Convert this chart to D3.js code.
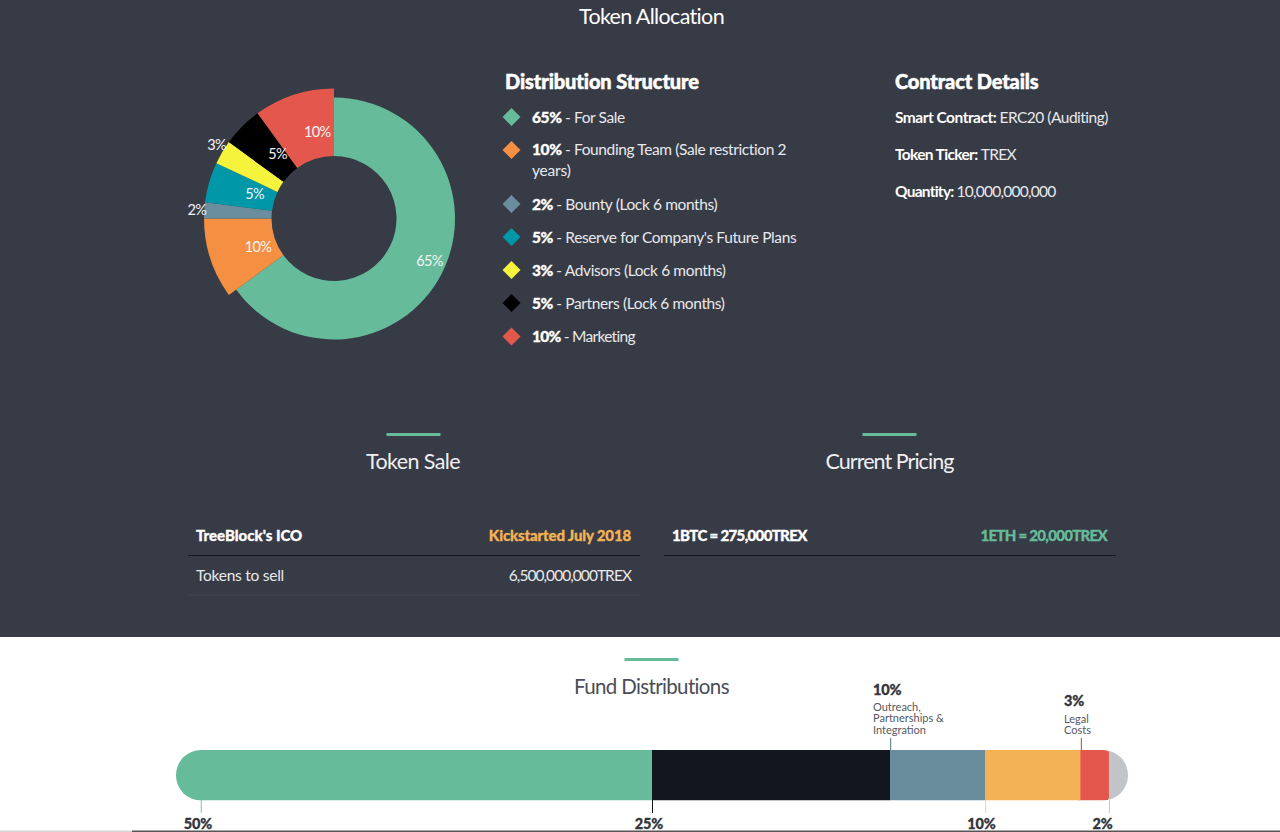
<!DOCTYPE html>
<html><head><meta charset="utf-8">
<script src="https://cdn.jsdelivr.net/npm/d3@7/dist/d3.min.js"></script>
<style>html,body{margin:0;padding:0;background:#fff;overflow:hidden}svg{display:block}text{font-family:Lato,"Noto Sans",sans-serif}</style>
</head><body><div id="chart"></div>
<script>
const sliceNames=["For Sale","Founding Team","Bounty","Reserve","Advisors","Partners","Marketing"];
const sliceValues=[65,10,2,5,3,5,10];
const sliceColors=["#66bb9a","#f58f41","#6b8e9e","#0097a9","#f5f33c","#000000","#e4574c"];
const sliceLabels=["65%","10%","2%","5%","3%","5%","10%"];
const labelNudge=[[13.8,0.8],[15.5,-0.8],[-41,-2.5],[13,2.2],[-34.5,-24.5],[11.7,3.5],[13,5]];
const legendBold=["65%","10%","2%","5%","3%","5%","10%"];
const legendText=[["- For Sale"],["- Founding Team (Sale restriction 2","years)"],["- Bounty (Lock 6 months)"],["- Reserve for Company's Future Plans"],["- Advisors (Lock 6 months)"],["- Partners (Lock 6 months)"],["- Marketing"]];
const legendRows=[117,150,204,237,270,303,336.5];
const legendTrack=[-0.38,-0.38,-0.38,-0.38,-0.38,-0.38,-0.7];
const contractKeys=["Smart Contract:","Token Ticker:","Quantity:"];
const contractVals=["ERC20 (Auditing)","TREX","10,000,000,000"];
const contractTrack=[-0.5,-0.66,-0.75];
const fundValues=[50,25,10,10,3,2];
const fundColors=["#66bb9a","#14161f","#6a8d9e","#f3b355","#e4574c","#c1c5ca"];
const fundBottom=[["50%",2.6],["25%",50],["10%",85],["2%",98]];

const W=1280,H=832,bg="#373b46";
const svg=d3.select("#chart").append("svg").attr("width",W).attr("height",H);
svg.append("rect").attr("width",W).attr("height",637).attr("fill",bg);
function txt(x,y,s,size,fill,weight,anchor,track,heavy){
 const t=svg.append("text").attr("x",x).attr("y",y).attr("font-size",size).attr("fill",fill).attr("font-weight",weight||400).attr("text-anchor",anchor||"start").attr("letter-spacing",track||0).text(s);
 if(heavy)t.attr("stroke",fill).attr("stroke-width",heavy);
 return t;
}
txt(651.5,24,"Token Allocation",21.5,"#fff",400,"middle",-0.65);

// donut
const cx=334,cy=218.5;
const pie=d3.pie().sort(null).value(d=>d)(sliceValues);
const g=svg.append("g").attr("transform",`translate(${cx},${cy})`);
const arcFor=i=>d3.arc().innerRadius(62.5).outerRadius(i===0?121:130);
g.selectAll("path").data(pie).join("path").attr("d",(d,i)=>arcFor(i)(d)).attr("fill",(d,i)=>sliceColors[i]);
g.selectAll("text").data(pie).join("text")
 .attr("transform",(d,i)=>{const c=arcFor(i).centroid(d);return `translate(${c[0]+labelNudge[i][0]},${c[1]+labelNudge[i][1]+5})`;})
 .attr("text-anchor","middle").attr("font-size",14.5).attr("letter-spacing",-0.6).attr("fill","#f4f4f6").text((d,i)=>sliceLabels[i]);

// legend
txt(505,89,"Distribution Structure",20,"#fff",900,"start",-0.1,0.5);
const sym=d3.symbol().type(d3.symbolSquare).size(162);
const textOffset=[5.5,4.5,5.5,5.5,5.5,5.5,5];
legendRows.forEach((y,i)=>{
 svg.append("path").attr("d",sym()).attr("fill",sliceColors[i]).attr("transform",`translate(511.5,${y}) rotate(45)`);
 const t=txt(532,y+textOffset[i],"",15.5,"#e8e9ec",400,"start",legendTrack[i]);
 t.append("tspan").attr("font-weight",900).attr("fill","#fff").attr("stroke","#fff").attr("stroke-width",0.3).text(legendBold[i]+" ");
 t.append("tspan").text(legendText[i][0]);
 if(legendText[i][1])txt(532,y+26,legendText[i][1],15.5,"#e8e9ec",400,"start",-0.2);
});
txt(895,89,"Contract Details",20,"#fff",900,"start",-0.13,0.5);
[117,154,191].forEach((y,i)=>{
 const t=txt(895,y+5.5,"",15.5,"#e8e9ec",400,"start",contractTrack[i]);
 t.append("tspan").attr("font-weight",700).attr("fill","#fff").text(contractKeys[i]+" ");
 t.append("tspan").text(contractVals[i]);
});

// section heads
function accent(x,y){svg.append("rect").attr("x",x).attr("y",y).attr("width",54).attr("height",3).attr("fill","#66bb9a");}
accent(386.5,433);accent(862.5,433);accent(624.5,658);
txt(413,469,"Token Sale",21.5,"#f0f0f2",400,"middle",-0.6);
txt(889.5,469,"Current Pricing",21.5,"#f0f0f2",400,"middle",-0.95);
txt(651.5,694,"Fund Distributions",20.5,"#4a4d55",400,"middle",-0.65);

// tables
txt(196,541,"TreeBlock's ICO",15,"#fff",900,"start",0,0.3);
txt(631,541,"Kickstarted July 2018",15,"#f3b355",900,"end",-0.15,0.3);
txt(196,580.5,"Tokens to sell",15.5,"#e8e9ec",400,"start",-0.25);
txt(631,580.5,"6,500,000,000TREX",15.5,"#e8e9ec",400,"end",-0.95);
txt(672,541,"1BTC = 275,000TREX",15,"#fff",900,"start",-0.65,0.3);
txt(1107,541,"1ETH = 20,000TREX",15,"#66bb9a",900,"end",-0.7,0.3);
svg.append("rect").attr("x",188).attr("y",555).attr("width",452).attr("height",1).attr("fill","#15171f");
svg.append("rect").attr("x",664).attr("y",555).attr("width",452).attr("height",1).attr("fill","#15171f");
svg.append("rect").attr("x",188).attr("y",594.5).attr("width",452).attr("height",1).attr("fill","#42464f");

// fund bar
const x=d3.scaleLinear().domain([0,100]).range([176,1128]);
const y0=750,barH=50.5;
const defs=svg.append("defs");
defs.append("clipPath").attr("id","pill").append("rect").attr("x",x(0)).attr("y",y0).attr("width",x(100)-x(0)).attr("height",barH).attr("rx",25);
const bar=svg.append("g").attr("clip-path","url(#pill)");
let acc=0;
const fundSegs=fundValues.map((v,i)=>{const s={start:acc,value:v,color:fundColors[i],index:i};acc+=v;return s;}).reverse();
bar.selectAll("rect").data(fundSegs).join("rect")
 .attr("x",d=>x(d.start)-(d.index===4?4:0)).attr("y",y0).attr("height",barH)
 .attr("width",d=>x(d.start+d.value)-x(d.start)+(d.index===4?4:0))
 .attr("rx",d=>d.index===4?3:0).attr("fill",d=>d.color);
// ticks
const tickColors=["#7cc6aa","#14161f","#f6d3a0","#c1c5ca"];
const labelX=[198,649,981.5,1102.5];
fundBottom.forEach((d,i)=>{
 svg.append("rect").attr("x",x(d[1])).attr("y",800).attr("width",1).attr("height",13).attr("fill",tickColors[i]);
 txt(labelX[i],829,d[0],14.5,"#33353c",900,"middle",-0.1,0.3);
});
svg.append("rect").attr("x",x(75)).attr("y",738).attr("width",1.2).attr("height",12).attr("fill","#6a8d9e");
svg.append("rect").attr("x",x(95)+0.4).attr("y",738).attr("width",1.2).attr("height",12).attr("fill","#e4574c");
txt(873,695,"10%",14.5,"#33353c",900,"start",-0.1,0.3);
["Outreach,","Partnerships &","Integration"].forEach((s,i)=>txt(873,711+i*11.3,s,11,"#55585f"));
txt(1064,706,"3%",14.5,"#33353c",900,"start",-0.1,0.3);
["Legal","Costs"].forEach((s,i)=>txt(1064,722.5+i*11.3,s,11,"#55585f"));
// page edge strip at the bottom of the screenshot
svg.append("rect").attr("x",0).attr("y",830.5).attr("width",132).attr("height",1.5).attr("fill","#d5d5d5");
svg.append("rect").attr("x",132).attr("y",830.5).attr("width",1148).attr("height",1.5).attr("fill","#555555");
</script></body></html>
